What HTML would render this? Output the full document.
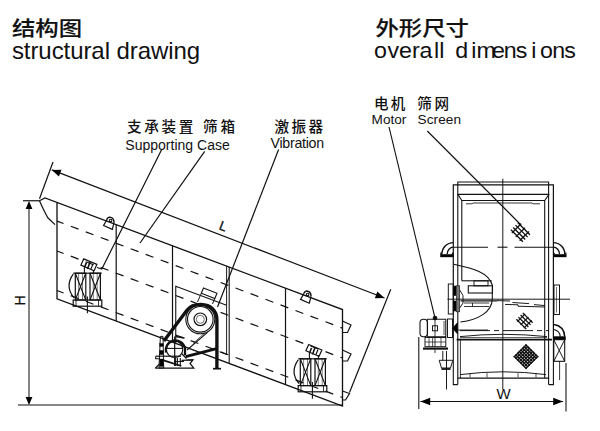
<!DOCTYPE html>
<html><head><meta charset="utf-8"><title>structural drawing</title>
<style>
html,body{margin:0;padding:0;background:#fff;}
body{width:600px;height:431px;overflow:hidden;}
svg{display:block}
svg line,svg path,svg rect,svg circle{stroke:#111;}
svg text{font-family:"Liberation Sans","Noto Sans CJK SC",sans-serif;fill:#111;}
svg text.cjk{font-family:"Liberation Sans","Noto Sans CJK SC",sans-serif;font-weight:500;}
</style></head><body>
<svg width="600" height="431" viewBox="0 0 600 431" fill="none" stroke-linecap="butt">
<line x1="18.00" y1="405.00" x2="342.50" y2="405.00" stroke-width="1.20" />
<line x1="23.00" y1="200.75" x2="40.00" y2="200.75" stroke-width="1.20" />
<line x1="29.00" y1="203.00" x2="29.00" y2="403.00" stroke-width="1.02" />
<polygon points="29.00,201.00 32.40,209.00 25.60,209.00" fill="#000" stroke="none"/>
<polygon points="29.00,405.00 25.60,397.00 32.40,397.00" fill="#000" stroke="none"/>
<line x1="53.00" y1="162.00" x2="39.50" y2="198.75" stroke-width="1.20" />
<line x1="390.75" y1="289.25" x2="349.50" y2="392.50" stroke-width="1.20" />
<line x1="51.80" y1="169.90" x2="384.50" y2="298.00" stroke-width="1.20" />
<polygon points="51.80,169.90 61.49,169.77 58.91,176.49" fill="#000" stroke="none"/>
<polygon points="384.50,298.00 374.81,298.13 377.39,291.41" fill="#000" stroke="none"/>
<path d="M40,200.5 L45,198 L342.5,309.56 L342.5,406 L57,298.75 L57,202.5" stroke-width="1.32" fill="none" />
<path d="M39.5,200.75 Q44,211 47.8,217.8 L55,224.6" stroke-width="1.20" fill="none" />
<line x1="116.20" y1="224.70" x2="116.20" y2="320.89" stroke-width="1.20" />
<line x1="172.50" y1="245.81" x2="172.50" y2="341.95" stroke-width="1.20" />
<line x1="285.50" y1="288.19" x2="285.50" y2="384.21" stroke-width="1.20" />
<line x1="226.60" y1="266.10" x2="226.60" y2="354.50" stroke-width="0.96" />
<line x1="229.20" y1="267.07" x2="229.20" y2="363.15" stroke-width="1.08" />
<line x1="226.60" y1="354.50" x2="219.50" y2="351.80" stroke-width="0.96" />
<line x1="57.00" y1="221.10" x2="342.50" y2="328.16" stroke-width="1.20" stroke-dasharray="8.3 7.7" stroke-dashoffset="1.3"/>
<line x1="57.00" y1="251.00" x2="342.50" y2="358.06" stroke-width="1.20" stroke-dasharray="8.3 7.7" stroke-dashoffset="1.3"/>
<line x1="57.00" y1="290.50" x2="342.50" y2="397.56" stroke-width="1.20" stroke-dasharray="8.3 7.7" stroke-dashoffset="1.3"/>
<path d="M106.70,220.00 L103.60,225.50 L112.30,229.30 L114.00,222.70" stroke-width="1.20" fill="none" />
<path d="M106.70,220.00 C107.50,215.50 114.20,216.50 114.00,222.70" stroke-width="1.44" fill="none" />
<circle cx="110.60" cy="220.60" r="1.30" stroke-width="1.08" fill="none"/>
<path d="M303.70,293.88 L300.60,299.38 L309.30,303.18 L311.00,296.57" stroke-width="1.20" fill="none" />
<path d="M303.70,293.88 C304.50,289.38 311.20,290.38 311.00,296.57" stroke-width="1.44" fill="none" />
<circle cx="307.60" cy="294.48" r="1.30" stroke-width="1.08" fill="none"/>
<path d="M342.5,321 L351,325 L347.5,332.5 L342.5,332.5" stroke-width="1.20" fill="none" />
<path d="M342.5,350 L351,354 L347.5,361 L342.5,361" stroke-width="1.20" fill="none" />
<path d="M342.5,391 L349.5,393.5 L345.5,400 L342.5,400" stroke-width="1.20" fill="none" />
<line x1="73.20" y1="273.20" x2="101.80" y2="273.20" stroke-width="1.20" />
<rect x="75.30" y="273.20" width="10.50" height="26.80" stroke-width="1.20" fill="none" />
<rect x="90.00" y="273.20" width="10.40" height="26.80" stroke-width="1.20" fill="none" />
<line x1="75.30" y1="273.20" x2="85.75" y2="300.00" stroke-width="1.08" />
<line x1="85.75" y1="273.20" x2="75.30" y2="300.00" stroke-width="1.08" />
<line x1="78.60" y1="273.20" x2="78.60" y2="300.00" stroke-width="0.54" />
<line x1="82.50" y1="273.20" x2="82.50" y2="300.00" stroke-width="0.54" />
<line x1="90.00" y1="273.20" x2="100.45" y2="300.00" stroke-width="1.08" />
<line x1="100.45" y1="273.20" x2="90.00" y2="300.00" stroke-width="1.08" />
<line x1="93.30" y1="273.20" x2="93.30" y2="300.00" stroke-width="0.54" />
<line x1="97.20" y1="273.20" x2="97.20" y2="300.00" stroke-width="0.54" />
<path d="M73.20,274.20 Q64.50,286.40 74.00,297.90" stroke-width="1.20" fill="none" />
<rect x="73.20" y="300.00" width="28.60" height="6.20" stroke-width="1.20" fill="none" />
<line x1="87.40" y1="296.40" x2="87.40" y2="313.20" stroke-width="1.08" />
<line x1="76.00" y1="300.00" x2="76.00" y2="306.20" stroke-width="0.84" />
<line x1="98.50" y1="300.00" x2="98.50" y2="306.20" stroke-width="0.84" />
<path d="M83.70,258.90 L96.90,264.40 L94.10,270.70 L80.90,265.10 Z" stroke-width="1.20" fill="none" />
<line x1="86.50" y1="262.40" x2="84.50" y2="267.40" stroke-width="1.56" />
<line x1="90.00" y1="261.90" x2="87.50" y2="268.90" stroke-width="1.56" />
<line x1="93.00" y1="263.90" x2="91.00" y2="268.90" stroke-width="1.20" />
<line x1="84.40" y1="266.40" x2="84.40" y2="273.20" stroke-width="1.08" />
<line x1="93.40" y1="269.90" x2="93.40" y2="273.20" stroke-width="1.08" />
<line x1="298.20" y1="358.80" x2="326.80" y2="358.80" stroke-width="1.20" />
<rect x="300.30" y="358.80" width="10.50" height="26.80" stroke-width="1.20" fill="none" />
<rect x="315.00" y="358.80" width="10.40" height="26.80" stroke-width="1.20" fill="none" />
<line x1="300.30" y1="358.80" x2="310.75" y2="385.60" stroke-width="1.08" />
<line x1="310.75" y1="358.80" x2="300.30" y2="385.60" stroke-width="1.08" />
<line x1="303.60" y1="358.80" x2="303.60" y2="385.60" stroke-width="0.54" />
<line x1="307.50" y1="358.80" x2="307.50" y2="385.60" stroke-width="0.54" />
<line x1="315.00" y1="358.80" x2="325.45" y2="385.60" stroke-width="1.08" />
<line x1="325.45" y1="358.80" x2="315.00" y2="385.60" stroke-width="1.08" />
<line x1="318.30" y1="358.80" x2="318.30" y2="385.60" stroke-width="0.54" />
<line x1="322.20" y1="358.80" x2="322.20" y2="385.60" stroke-width="0.54" />
<path d="M298.20,359.80 Q289.50,372.00 299.00,383.50" stroke-width="1.20" fill="none" />
<rect x="298.20" y="385.60" width="28.60" height="6.20" stroke-width="1.20" fill="none" />
<line x1="312.40" y1="382.00" x2="312.40" y2="398.80" stroke-width="1.08" />
<line x1="301.00" y1="385.60" x2="301.00" y2="391.80" stroke-width="0.84" />
<line x1="323.50" y1="385.60" x2="323.50" y2="391.80" stroke-width="0.84" />
<path d="M308.70,344.50 L321.90,350.00 L319.10,356.30 L305.90,350.70 Z" stroke-width="1.20" fill="none" />
<line x1="311.50" y1="348.00" x2="309.50" y2="353.00" stroke-width="1.56" />
<line x1="315.00" y1="347.50" x2="312.50" y2="354.50" stroke-width="1.56" />
<line x1="318.00" y1="349.50" x2="316.00" y2="354.50" stroke-width="1.20" />
<line x1="309.40" y1="352.00" x2="309.40" y2="358.80" stroke-width="1.08" />
<line x1="318.40" y1="355.50" x2="318.40" y2="358.80" stroke-width="1.08" />
<path d="M161.7,149.5 L101.8,269 L97,267.5" stroke-width="1.20" fill="none" />
<line x1="204.70" y1="151.40" x2="140.00" y2="243.00" stroke-width="1.20" />
<line x1="278.60" y1="149.50" x2="217.50" y2="307.00" stroke-width="1.20" />
<path d="M175.75,343.16 L175.75,286.25 L226.6,305.3" stroke-width="1.08" fill="none" />
<path d="M203.5,288 L217,293.2 L214.8,298.5 L201.3,293.3 Z" stroke-width="1.08" fill="none" />
<line x1="201.30" y1="293.30" x2="197.50" y2="302.00" stroke-width="0.96" />
<line x1="214.80" y1="298.50" x2="212.50" y2="304.00" stroke-width="0.96" />
<circle cx="200.30" cy="319.30" r="14.50" stroke-width="1.08" fill="none"/>
<circle cx="200.30" cy="319.30" r="12.80" stroke-width="1.08" fill="none"/>
<circle cx="200.30" cy="319.30" r="6.30" stroke-width="1.20" fill="none"/>
<circle cx="200.30" cy="319.30" r="4.00" stroke-width="0.60" fill="none"/>
<path d="M163.9,341 L186.9,310.3 C190.5,305.8 195,304.4 201,304.5 C211,304.8 216.9,311 216.9,319.5 L216.9,368.5" stroke-width="3.36" fill="none" />
<line x1="185.70" y1="356.60" x2="216.50" y2="348.60" stroke-width="2.88" />
<line x1="213.00" y1="368.70" x2="221.00" y2="368.70" stroke-width="1.68" />
<line x1="207.50" y1="332.30" x2="187.00" y2="350.00" stroke-width="1.08" />
<line x1="204.50" y1="333.20" x2="193.00" y2="343.50" stroke-width="0.72" />
<circle cx="174.60" cy="349.30" r="8.20" stroke-width="1.08" fill="none"/>
<path d="M165.9,352.5 A9.8,9.8 0 1 1 185,348 L185,355.2" stroke-width="2.28" fill="none" />
<line x1="174.70" y1="336.50" x2="174.70" y2="366.00" stroke-width="1.20" />
<line x1="166.50" y1="348.40" x2="183.00" y2="348.40" stroke-width="1.08" />
<line x1="175.50" y1="336.60" x2="184.50" y2="338.00" stroke-width="1.56" />
<path d="M160.4,336.4 L163,336.4 L163.7,368 L159,368 Z" stroke-width="0.96" fill="none" />
<rect x="159.60" y="343.50" width="3.80" height="3.00" stroke-width="0.36" fill="#000" />
<rect x="159.60" y="350.40" width="3.80" height="4.20" stroke-width="0.36" fill="#000" />
<rect x="159.60" y="359.00" width="3.80" height="7.50" stroke-width="0.36" fill="#000" />
<path d="M155.3,368.1 L193.8,368.1 L190,363.5 L193,359.8 L181.5,360.3" stroke-width="1.20" fill="none" />
<path d="M155.7,356.2 L155.7,358.8 L160,358.8" stroke-width="1.08" fill="none" />
<line x1="155.70" y1="356.20" x2="181.00" y2="356.20" stroke-width="1.20" />
<line x1="163.60" y1="360.30" x2="181.30" y2="366.00" stroke-width="1.80" />
<line x1="155.50" y1="368.00" x2="159.50" y2="364.00" stroke-width="1.20" />
<line x1="175.60" y1="358.00" x2="175.60" y2="366.00" stroke-width="1.08" />
<line x1="177.40" y1="358.00" x2="177.40" y2="366.00" stroke-width="1.08" />
<line x1="180.30" y1="358.00" x2="180.30" y2="366.00" stroke-width="1.08" />
<line x1="174.00" y1="361.50" x2="184.00" y2="361.50" stroke-width="0.96" />
<line x1="186.50" y1="360.00" x2="193.00" y2="359.80" stroke-width="1.08" />
<line x1="181.50" y1="353.50" x2="186.50" y2="358.50" stroke-width="1.20" />
<path d="M453.3,340 L453.3,184.8 L553.4,184.8 L553.4,340" stroke-width="1.20" fill="none" />
<path d="M457.8,384.6 L457.8,182 L548.6,182 L548.6,384.6" stroke-width="1.08" fill="none" />
<line x1="457.50" y1="194.40" x2="549.20" y2="194.40" stroke-width="1.08" />
<path d="M457.9,194.4 L461.8,200.5 L544.7,200.5 L549,194.4" stroke-width="1.08" fill="none" />
<line x1="461.80" y1="200.50" x2="461.80" y2="280.80" stroke-width="1.08" />
<line x1="544.70" y1="200.50" x2="544.70" y2="378.00" stroke-width="1.08" />
<path d="M466,203.8 L472,203.8 L473,203 L532,203 L533,203.8 L540,203.8" stroke-width="0.84" fill="none" />
<line x1="502.80" y1="178.70" x2="502.80" y2="389.50" stroke-width="0.96" />
<line x1="453.40" y1="247.20" x2="488.00" y2="247.20" stroke-width="1.08" />
<line x1="497.50" y1="247.20" x2="507.50" y2="247.20" stroke-width="1.08" />
<line x1="514.50" y1="247.20" x2="553.30" y2="247.20" stroke-width="1.08" />
<rect x="440.40" y="254.30" width="13.00" height="2.70" stroke-width="0.36" fill="#000" />
<path d="M441.90,254 A11.5,11.3 0 0 1 453.40,242.6" stroke-width="1.44" fill="none" />
<path d="M447.20,254 A6.2,6.8 0 0 1 453.40,247.2" stroke-width="1.32" fill="none" />
<polygon points="440.40,254.5 440.40,252 442.40,254.5" fill="#000" stroke="none"/>
<polygon points="453.40,254.5 453.40,251.6 451.20,254.5" fill="#000" stroke="none"/>
<rect x="553.30" y="254.30" width="13.00" height="2.70" stroke-width="0.36" fill="#000" />
<path d="M564.80,254 A11.5,11.3 0 0 0 553.30,242.6" stroke-width="1.44" fill="none" />
<path d="M559.50,254 A6.2,6.8 0 0 0 553.30,247.2" stroke-width="1.32" fill="none" />
<polygon points="566.30,254.5 566.30,252 564.30,254.5" fill="#000" stroke="none"/>
<polygon points="553.30,254.5 553.30,251.6 555.50,254.5" fill="#000" stroke="none"/>
<line x1="427.30" y1="131.00" x2="521.00" y2="225.00" stroke-width="1.20" />
<line x1="510.89" y1="229.79" x2="522.91" y2="241.81" stroke-width="1.32" />
<line x1="513.22" y1="227.46" x2="525.24" y2="239.48" stroke-width="1.32" />
<line x1="515.56" y1="225.12" x2="527.58" y2="237.14" stroke-width="1.32" />
<line x1="517.89" y1="222.79" x2="529.91" y2="234.81" stroke-width="1.32" />
<line x1="511.91" y1="233.01" x2="521.11" y2="223.81" stroke-width="1.32" />
<line x1="515.80" y1="236.90" x2="525.00" y2="227.70" stroke-width="1.32" />
<line x1="519.69" y1="240.79" x2="528.89" y2="231.59" stroke-width="1.32" />
<line x1="516.37" y1="319.23" x2="526.27" y2="329.13" stroke-width="1.32" />
<line x1="518.49" y1="317.11" x2="528.39" y2="327.01" stroke-width="1.32" />
<line x1="520.61" y1="314.99" x2="530.51" y2="324.89" stroke-width="1.32" />
<line x1="522.73" y1="312.87" x2="532.63" y2="322.77" stroke-width="1.32" />
<line x1="517.36" y1="321.64" x2="525.14" y2="313.86" stroke-width="1.32" />
<line x1="520.61" y1="324.89" x2="528.39" y2="317.11" stroke-width="1.32" />
<line x1="523.86" y1="328.14" x2="531.64" y2="320.36" stroke-width="1.32" />
<line x1="513.82" y1="356.05" x2="526.55" y2="368.78" stroke-width="1.38" />
<line x1="515.48" y1="354.39" x2="528.21" y2="367.12" stroke-width="1.38" />
<line x1="517.14" y1="352.73" x2="529.87" y2="365.46" stroke-width="1.38" />
<line x1="518.81" y1="351.07" x2="531.53" y2="363.79" stroke-width="1.38" />
<line x1="520.47" y1="349.41" x2="533.19" y2="362.13" stroke-width="1.38" />
<line x1="522.13" y1="347.74" x2="534.86" y2="360.47" stroke-width="1.38" />
<line x1="523.79" y1="346.08" x2="536.52" y2="358.81" stroke-width="1.38" />
<line x1="525.45" y1="344.42" x2="538.18" y2="357.15" stroke-width="1.38" />
<line x1="513.82" y1="357.15" x2="526.55" y2="344.42" stroke-width="1.38" />
<line x1="515.48" y1="358.81" x2="528.21" y2="346.08" stroke-width="1.38" />
<line x1="517.14" y1="360.47" x2="529.87" y2="347.74" stroke-width="1.38" />
<line x1="518.81" y1="362.13" x2="531.53" y2="349.41" stroke-width="1.38" />
<line x1="520.47" y1="363.79" x2="533.19" y2="351.07" stroke-width="1.38" />
<line x1="522.13" y1="365.46" x2="534.86" y2="352.73" stroke-width="1.38" />
<line x1="523.79" y1="367.12" x2="536.52" y2="354.39" stroke-width="1.38" />
<line x1="525.45" y1="368.78" x2="538.18" y2="356.05" stroke-width="1.38" />
<path d="M453.3,264.2 C470,268 488,271 492.3,285 L492.3,299 C492,312 478,320 460.4,322" stroke-width="1.08" fill="none" />
<line x1="461.80" y1="280.80" x2="491.70" y2="280.80" stroke-width="1.08" />
<rect x="474.00" y="280.80" width="14.00" height="5.00" stroke-width="0.96" fill="none" />
<rect x="468.30" y="285.80" width="24.20" height="7.20" stroke-width="1.08" fill="none" />
<rect x="448.30" y="284.00" width="5.00" height="30.00" stroke-width="0.96" fill="none" />
<rect x="453.20" y="286.00" width="2.80" height="9.50" stroke-width="0.60" fill="#000" />
<rect x="453.20" y="301.00" width="2.80" height="10.00" stroke-width="0.60" fill="#000" />
<rect x="456.50" y="285.80" width="3.20" height="26.00" stroke-width="0.60" fill="#777" />
<path d="M459.7,290 L463,295.5 L463,303 L459.7,308" stroke-width="0.96" fill="none" />
<rect x="554.00" y="285.00" width="5.50" height="29.50" stroke-width="0.96" fill="none" />
<line x1="556.50" y1="287.00" x2="556.50" y2="312.50" stroke-width="0.60" />
<line x1="447.50" y1="299.20" x2="570.00" y2="299.20" stroke-width="0.96" />
<line x1="460.50" y1="300.80" x2="497.00" y2="300.80" stroke-width="1.32" />
<line x1="464.00" y1="303.00" x2="489.20" y2="303.00" stroke-width="0.84" />
<line x1="472.50" y1="303.00" x2="472.50" y2="306.50" stroke-width="0.84" />
<line x1="464.00" y1="306.50" x2="489.20" y2="306.50" stroke-width="0.84" />
<path d="M497,300.6 L510,301 M512.5,302.5 L529,303.6 M534,304.6 L545,305.6" stroke-width="0.96" fill="none" />
<path d="M505,304.4 L518,304.8 L518,306.2 L545,307" stroke-width="0.96" fill="none" />
<line x1="460.00" y1="330.60" x2="548.00" y2="330.60" stroke-width="0.96" stroke-dasharray="30 4 5 4"/>
<path d="M460,336.6 Q503,332 547,336.6" stroke-width="0.96" fill="none" />
<line x1="460.00" y1="337.60" x2="547.00" y2="337.60" stroke-width="0.72" />
<line x1="456.60" y1="339.60" x2="552.00" y2="339.60" stroke-width="1.68" />
<line x1="457.50" y1="378.20" x2="549.20" y2="378.20" stroke-width="1.20" />
<path d="M460.4,374.6 Q503,369 546,374.6" stroke-width="0.96" fill="none" />
<line x1="460.40" y1="340.00" x2="460.40" y2="378.00" stroke-width="0.84" />
<line x1="470.00" y1="373.20" x2="470.00" y2="377.50" stroke-width="0.72" />
<line x1="487.00" y1="373.20" x2="487.00" y2="377.50" stroke-width="0.72" />
<line x1="518.00" y1="373.20" x2="518.00" y2="377.50" stroke-width="0.72" />
<line x1="536.00" y1="373.20" x2="536.00" y2="377.50" stroke-width="0.72" />
<path d="M453.3,340 L453.3,384.6 L457.8,384.6" stroke-width="1.08" fill="none" />
<path d="M553.4,340 L553.4,384.6 L548.6,384.6" stroke-width="1.08" fill="none" />
<path d="M553.8,324.6 Q564,326 564.7,336.7" stroke-width="1.56" fill="none" />
<path d="M553.8,329.5 Q560,331 560.3,336.7" stroke-width="1.20" fill="none" />
<rect x="553.80" y="336.70" width="11.60" height="3.00" stroke-width="0.60" fill="#000" />
<rect x="553.80" y="339.70" width="10.90" height="21.60" stroke-width="1.08" fill="none" />
<line x1="553.80" y1="339.70" x2="564.70" y2="361.30" stroke-width="0.96" />
<line x1="564.70" y1="339.70" x2="553.80" y2="361.30" stroke-width="0.96" />
<line x1="559.60" y1="361.00" x2="559.60" y2="380.00" stroke-width="0.84" />
<line x1="566.00" y1="363.00" x2="566.00" y2="411.60" stroke-width="1.08" />
<path d="M427,319.2 L445.8,319.2 L445.8,336.7 L427,336.7" stroke-width="1.08" fill="none" />
<rect x="420.00" y="319.20" width="7.50" height="17.50" stroke-width="1.08" fill="none" rx="3.5"/>
<line x1="427.30" y1="319.20" x2="427.30" y2="336.70" stroke-width="0.96" />
<line x1="444.00" y1="321.00" x2="444.00" y2="335.00" stroke-width="0.72" />
<rect x="432.50" y="325.80" width="5.00" height="5.00" stroke-width="0.96" fill="none" />
<circle cx="435.00" cy="318.00" r="2.00" stroke-width="0.60" fill="#000"/>
<line x1="435.00" y1="318.00" x2="435.00" y2="347.00" stroke-width="0.84" />
<line x1="389.00" y1="126.80" x2="435.00" y2="318.00" stroke-width="1.08" />
<rect x="425.00" y="337.50" width="20.80" height="9.20" stroke-width="0.96" fill="none" />
<line x1="429.00" y1="337.50" x2="429.00" y2="346.70" stroke-width="0.72" />
<line x1="432.60" y1="337.50" x2="432.60" y2="346.70" stroke-width="0.72" />
<line x1="441.00" y1="337.50" x2="441.00" y2="346.70" stroke-width="0.72" />
<line x1="425.00" y1="342.00" x2="445.80" y2="342.00" stroke-width="0.72" />
<line x1="423.00" y1="348.60" x2="448.00" y2="348.60" stroke-width="2.16" />
<rect x="447.50" y="319.00" width="5.00" height="18.50" stroke-width="0.96" fill="none" />
<path d="M457.5,322.5 L457.5,334 L452.5,328.3 Z" stroke-width="0.60" fill="#000" />
<line x1="452.50" y1="330.00" x2="488.00" y2="330.00" stroke-width="0.84" />
<line x1="446.50" y1="351.00" x2="446.50" y2="389.50" stroke-width="0.96" />
<line x1="442.80" y1="351.00" x2="442.80" y2="360.30" stroke-width="0.96" />
<line x1="435.00" y1="349.50" x2="435.00" y2="353.00" stroke-width="0.84" />
<path d="M439.2,360.3 L452.8,360.3 L450.5,368 L441.5,368 Z" stroke-width="0.96" fill="none" />
<line x1="441.50" y1="369.00" x2="450.50" y2="369.00" stroke-width="1.80" />
<line x1="418.80" y1="337.00" x2="418.80" y2="409.00" stroke-width="1.08" />
<line x1="420.40" y1="401.50" x2="563.00" y2="401.50" stroke-width="1.08" />
<polygon points="420.40,401.50 430.20,397.80 430.20,405.20" fill="#000" stroke="none"/>
<polygon points="563.00,401.50 553.20,405.20 553.20,397.80" fill="#000" stroke="none"/>

<text transform="translate(12,35.9) scale(1.135,1)" font-size="20.6" font-weight="500" stroke="#111" stroke-width="0.15" class="cjk">结构图</text>
<text x="11.9" y="58.5" font-size="24" textLength="188.3" lengthAdjust="spacing">structural drawing</text>
<text transform="translate(375.5,35.9) scale(1.135,1)" font-size="20.6" font-weight="500" stroke="#111" stroke-width="0.15" class="cjk">外形尺寸</text>
<text transform="scale(1.08,1)" text-anchor="middle" y="58.2" font-size="21.5" x="352.31 364.26 375.46 385.09 394.44 404.17 409.07">overall</text>
<text transform="scale(1.08,1)" text-anchor="middle" y="58.2" font-size="21.5" x="427.55 438.80 450.09 461.57 472.45 482.96 494.35 506.02 517.36 527.78">dimensions</text>
<text x="126.9" y="132.1" font-size="14.6" letter-spacing="2.7" class="cjk">支承装置</text>
<text x="202.9" y="132.1" font-size="14.6" letter-spacing="3.1" class="cjk">筛箱</text>
<text x="125.3" y="149.7" font-size="14" textLength="104.5" lengthAdjust="spacing">Supporting Case</text>
<text x="274.4" y="132.1" font-size="14.6" letter-spacing="2.4" class="cjk">激振器</text>
<text x="270.5" y="147.8" font-size="14.2" textLength="53.6" lengthAdjust="spacing">Vibration</text>
<text x="374.1" y="109.4" font-size="14.6" letter-spacing="2.0" class="cjk">电机</text>
<text x="417.3" y="109.4" font-size="14.6" letter-spacing="2.6" class="cjk">筛网</text>
<text x="371.6" y="124.1" font-size="13.6" textLength="34.8" lengthAdjust="spacing">Motor</text>
<text x="417.6" y="124.1" font-size="13.6" textLength="43.4" lengthAdjust="spacing">Screen</text>
<text x="0" y="0" font-size="14" stroke="#111" stroke-width="0.3" transform="translate(25.2,305.6) rotate(-90)">H</text>
<text x="0" y="0" font-size="13" stroke="#111" stroke-width="0.3" transform="translate(218.3,228.9) rotate(21)">L</text>
<text x="496.5" y="399" font-size="15">W</text>

</svg>
</body></html>
